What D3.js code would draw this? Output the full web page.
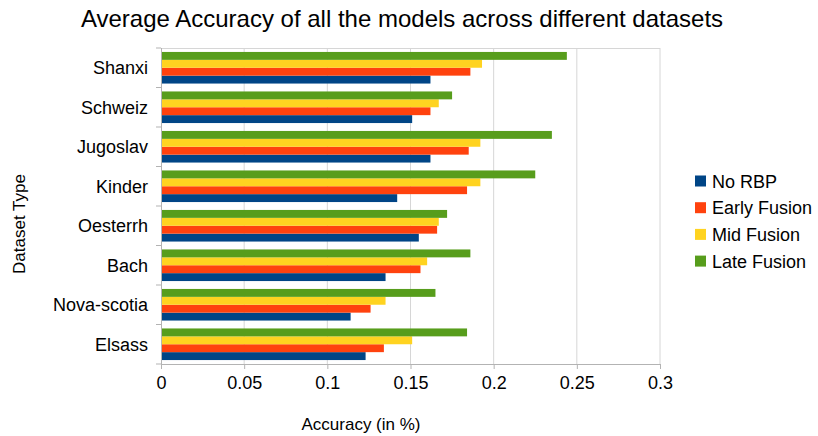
<!DOCTYPE html>
<html>
<head>
<meta charset="utf-8">
<script src="https://cdn.jsdelivr.net/npm/d3@7"></script>
<style>
  html, body { margin: 0; padding: 0; background: #fff; }
  svg { display: block; font-family: "Liberation Sans", Arial, sans-serif; }
</style>
</head>
<body>
<svg id="chart" width="818" height="436"></svg>
<script>
// Datasets, listed top to bottom
const datasets = ["Shanxi", "Schweiz", "Jugoslav", "Kinder", "Oesterrh", "Bach", "Nova-scotia", "Elsass"];
const seriesNames = ["No RBP", "Early Fusion", "Mid Fusion", "Late Fusion"];
const noRBP       = [0.162, 0.151, 0.162, 0.142, 0.155, 0.135, 0.114, 0.123];
const earlyFusion = [0.186, 0.162, 0.185, 0.184, 0.166, 0.156, 0.126, 0.134];
const midFusion   = [0.193, 0.167, 0.192, 0.192, 0.167, 0.160, 0.135, 0.151];
const lateFusion  = [0.244, 0.175, 0.235, 0.225, 0.172, 0.186, 0.165, 0.184];
const xTicks = [0, 0.05, 0.1, 0.15, 0.2, 0.25, 0.3];
const colors = ["#004586", "#ff420e", "#ffd320", "#579d1c"];

const seriesValues = [noRBP, earlyFusion, midFusion, lateFusion];
const svg = d3.select("#chart");

const plot = { left: 161, right: 660, top: 48, bottom: 364 };

const x = d3.scaleLinear().domain([0, 0.3]).range([plot.left, plot.right]);
const y = d3.scaleBand().domain(datasets).range([plot.top, plot.bottom])
  .paddingInner(0.2).paddingOuter(0.1);
// Within a group, Late Fusion is drawn on top and No RBP at the bottom
const yInner = d3.scaleBand().domain([3, 2, 1, 0]).range([0, y.bandwidth()]);

// Vertical grid lines
svg.append("g").selectAll("line").data(xTicks.slice(1)).join("line")
  .attr("x1", d => x(d)).attr("x2", d => x(d))
  .attr("y1", plot.top).attr("y2", plot.bottom)
  .attr("stroke", "#d6d6d6").attr("stroke-width", 1);
// Top border line
svg.append("line")
  .attr("x1", plot.left).attr("x2", plot.right)
  .attr("y1", plot.top + 0.5).attr("y2", plot.top + 0.5)
  .attr("stroke", "#d6d6d6");

// Bars
const rows = [];
datasets.forEach((d, i) => seriesValues.forEach((vals, s) => rows.push({ d, s, v: vals[i] })));
svg.append("g").selectAll("rect").data(rows).join("rect")
  .attr("x", x(0))
  .attr("y", r => y(r.d) + yInner(r.s))
  .attr("width", r => x(r.v) - x(0))
  .attr("height", yInner.bandwidth())
  .attr("fill", r => colors[r.s]);

// Bottom axis
const xAxis = svg.append("g")
  .attr("transform", `translate(0,${plot.bottom})`)
  .call(d3.axisBottom(x).tickValues(xTicks).tickFormat(d => String(d)).tickSize(5).tickPadding(7));
xAxis.select(".domain").attr("stroke", "#b3b3b3");
xAxis.selectAll(".tick line").attr("stroke", "#b3b3b3");
xAxis.selectAll("text").attr("font-size", 18).attr("fill", "#000")
  .attr("font-family", "Liberation Sans, Arial, sans-serif");

// Left axis: category boundary ticks and labels
const yAxisG = svg.append("g");
yAxisG.append("line")
  .attr("x1", plot.left + 0.5).attr("x2", plot.left + 0.5)
  .attr("y1", plot.top).attr("y2", plot.bottom)
  .attr("stroke", "#b3b3b3");
const step = y.step();
const bounds = d3.range(datasets.length + 1).map(i => plot.top + i * step);
yAxisG.selectAll(".bt").data(bounds).join("line")
  .attr("x1", plot.left - 5).attr("x2", plot.left)
  .attr("y1", d => d).attr("y2", d => d)
  .attr("stroke", "#b3b3b3");
yAxisG.selectAll("text").data(datasets).join("text")
  .attr("x", plot.left - 13)
  .attr("y", d => y(d) + y.bandwidth() / 2)
  .attr("dy", "0.37em")
  .attr("text-anchor", "end")
  .attr("font-size", 18)
  .text(d => d);

// Title
svg.append("text")
  .attr("x", 402).attr("y", 27)
  .attr("text-anchor", "middle")
  .attr("font-size", 24)
  .text("Average Accuracy of all the models across different datasets");

// Axis titles
svg.append("text")
  .attr("x", 361).attr("y", 430)
  .attr("text-anchor", "middle")
  .attr("font-size", 17)
  .text("Accuracy (in %)");
svg.append("text")
  .attr("transform", "translate(25,224) rotate(-90)")
  .attr("text-anchor", "middle")
  .attr("font-size", 17)
  .text("Dataset Type");

// Legend
const legend = svg.append("g").attr("transform", "translate(695,181)");
const li = legend.selectAll("g").data(seriesNames).join("g")
  .attr("transform", (d, i) => `translate(0,${i * 26.7})`);
li.append("rect").attr("x", 0).attr("y", -5.5).attr("width", 11).attr("height", 11)
  .attr("fill", (d, i) => colors[i]);
li.append("text").attr("x", 17).attr("y", 0).attr("dy", "0.37em")
  .attr("font-size", 18).text(d => d);
</script>
</body>
</html>
